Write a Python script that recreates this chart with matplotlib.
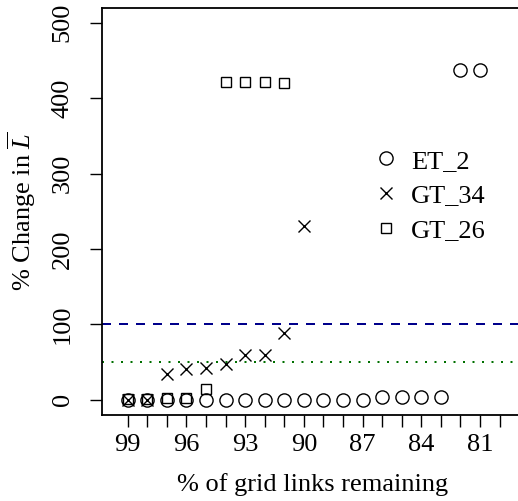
import matplotlib
matplotlib.use("Agg")
import matplotlib.pyplot as plt
from matplotlib.lines import Line2D

plt.rcParams["font.family"] = ["Liberation Serif", "DejaVu Serif"]
plt.rcParams["mathtext.fontset"] = "custom"
plt.rcParams["mathtext.rm"] = "Liberation Serif"
plt.rcParams["mathtext.it"] = "Liberation Serif:italic"
plt.rcParams["lines.scale_dashes"] = False

# % of grid links remaining for each removal step
pct_remaining = [99, 98, 97, 96, 95, 94, 93, 92, 91, 90, 89, 88, 87, 86, 85, 84, 83, 82, 81]

# % change in mean path length for each network
et_2 = [0, 0, 0, 0, 0, 0, 0, 0, 0, 0, 0, 0, 0, 4, 4, 4, 4, 437, 437]
gt_34_x = [99, 98, 97, 96, 95, 94, 93, 92, 91, 90]
gt_34 = [0, 0, 35, 41, 42, 48, 60, 60, 89, 230]
gt_26_x = [99, 98, 97, 96, 95, 94, 93, 92, 91]
gt_26 = [1, 1, 2, 2, 15, 422, 422, 422, 420]

series_labels = ["ET_2", "GT_34", "GT_26"]
x_tick_values = list(range(99, 79, -1))
x_tick_labels = [str(v) if (99 - v) % 3 == 0 else "" for v in x_tick_values]
y_tick_values = [0, 100, 200, 300, 400, 500]

W, H = 518, 501
fig = plt.figure(figsize=(W / 100, H / 100), dpi=100)
left_px, right_px, top_px, bottom_px = 102.3, 522.7, 7.7, 415.0
ax = fig.add_axes([left_px / W, 1 - bottom_px / H,
                   (right_px - left_px) / W, (bottom_px - top_px) / H])

ms = 9.5
mew = 1.0
ax.plot(pct_remaining, et_2, linestyle="none", marker="o", ms=ms,
        mfc="none", mec="black", mew=mew)
ax.plot(gt_34_x, gt_34, linestyle="none", marker="x", ms=8.5,
        mec="black", mew=mew)
ax.plot(gt_26_x, gt_26, linestyle="none", marker="s", ms=7.2,
        mfc="none", mec="black", mew=mew)

px = 0.72  # points per pixel at 100 dpi
ax.axhline(100, color="#00008B", lw=2 * px, dashes=(9 * px, 8 * px), zorder=1)
ax.axhline(50, color="#007000", lw=2 * px, dashes=(2 * px, 7.5 * px), zorder=1)

ax.set_xlim(100.30, 78.82)
ax.set_ylim(-20, 520)
ax.set_xticks(x_tick_values)
ax.set_xticklabels(x_tick_labels)
ax.set_yticks(y_tick_values)
ax.set_yticklabels([str(v) for v in y_tick_values], rotation=90, va="center")

fs = 19
ax.tick_params(axis="both", direction="out", length=12 * px, width=1.0,
               labelsize=fs, color="black")
ax.tick_params(axis="x", pad=5)
ax.tick_params(axis="y", pad=12)
for s in ax.spines.values():
    s.set_linewidth(1.3)
ax.spines["right"].set_visible(False)

ax.set_xlabel("% of grid links remaining", fontsize=fs, labelpad=12)
ax.set_ylabel(r"% Change in $\overline{L}$", fontsize=fs, labelpad=10)

handles = [
    Line2D([], [], linestyle="none", marker="o", ms=ms, mfc="none", mec="black", mew=mew),
    Line2D([], [], linestyle="none", marker="x", ms=8.5, mec="black", mew=mew),
    Line2D([], [], linestyle="none", marker="s", ms=7.2, mfc="none", mec="black", mew=mew),
]
leg = ax.legend(handles, series_labels, frameon=False, fontsize=fs,
                loc="upper left", bbox_to_anchor=(362 / W, 1 - 136 / H),
                bbox_transform=fig.transFigure, handlelength=0.8,
                handletextpad=0.55, labelspacing=0.42, borderpad=0)

fig.savefig("out.png", dpi=100)
